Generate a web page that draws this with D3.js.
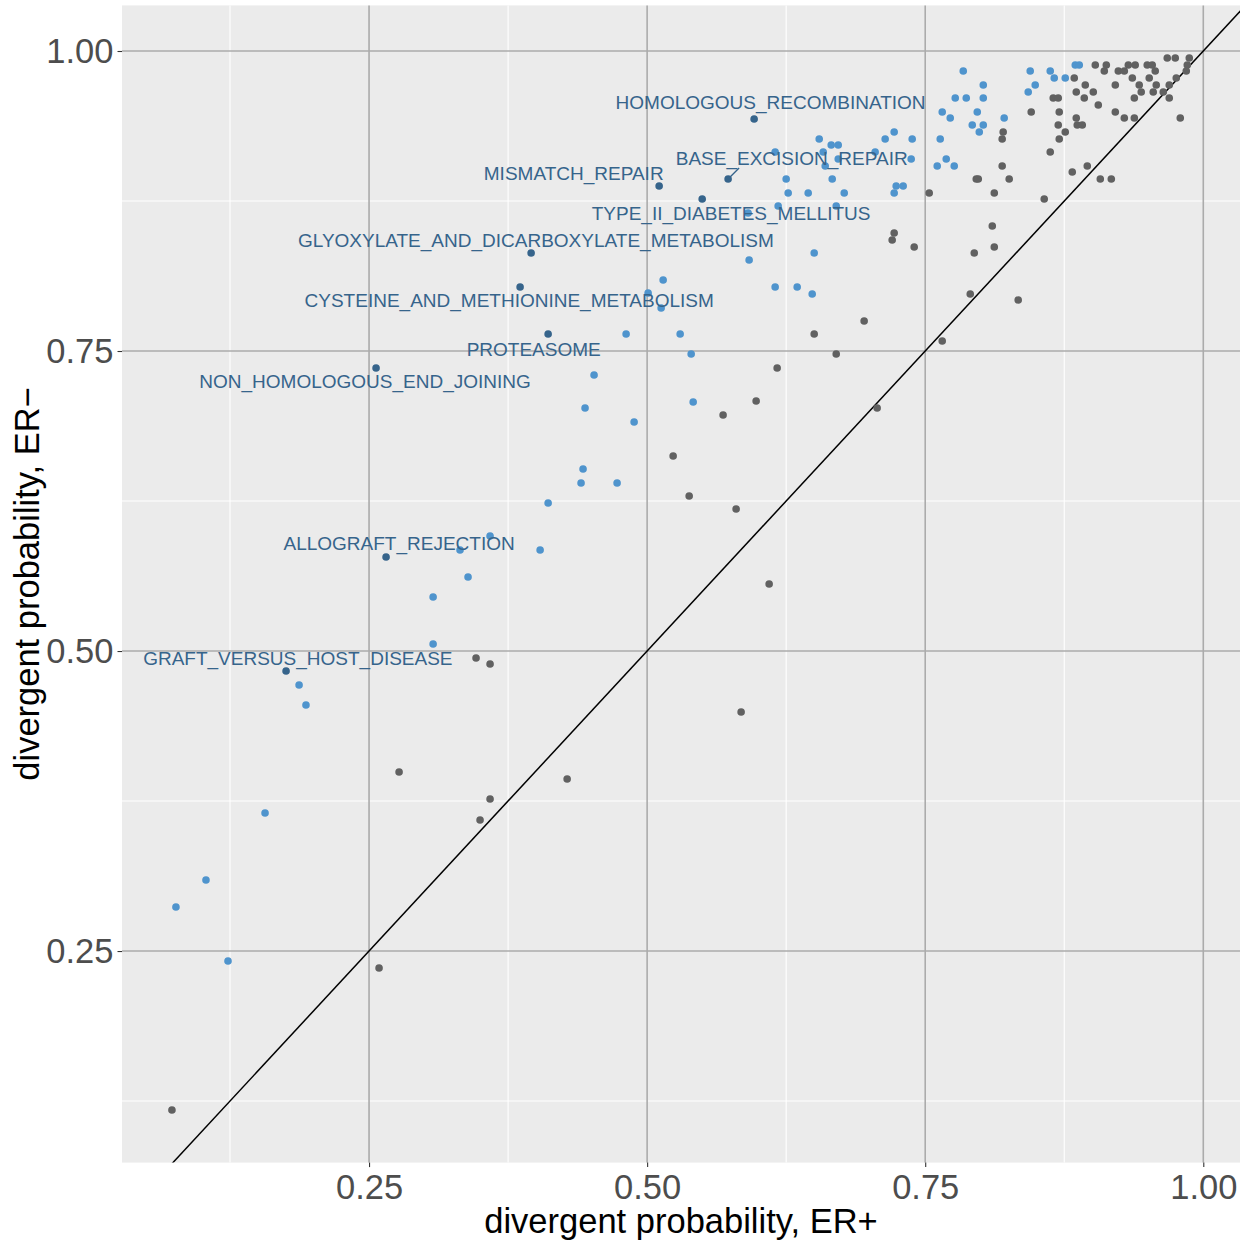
<!DOCTYPE html>
<html>
<head>
<meta charset="utf-8">
<script src="https://cdn.jsdelivr.net/npm/d3@7"></script>
<style>
  body { margin: 0; background: #ffffff; }
  svg { display: block; font-family: "Liberation Sans", Arial, Helvetica, sans-serif; }
</style>
</head>
<body>
<div id="chart"></div>
<script>
// divergent probability per pathway: [ER+, ER-]
// pathways that are not shifted toward ER-
const otherPoints = [
  [0.9676, 0.9942], [0.9748, 0.9942], [0.9874, 0.9942],
  [0.9029, 0.9883], [0.9128, 0.9883], [0.9326, 0.9883], [0.9388, 0.9883], [0.9496, 0.9883], [0.9541, 0.9883], [0.9856, 0.9883],
  [0.9110, 0.9833], [0.9236, 0.9833], [0.9290, 0.9833], [0.9568, 0.9833], [0.9847, 0.9833],
  [0.8840, 0.9775], [0.9362, 0.9775], [0.9514, 0.9775], [0.9757, 0.9775],
  [0.8939, 0.9717], [0.9209, 0.9717], [0.9424, 0.9717], [0.9577, 0.9717], [0.9694, 0.9717],
  [0.8858, 0.9658], [0.9011, 0.9658], [0.9442, 0.9658], [0.9550, 0.9658], [0.9640, 0.9658],
  [0.8651, 0.9608], [0.8696, 0.9608], [0.8930, 0.9608], [0.9380, 0.9608], [0.9694, 0.9608],
  [0.9056, 0.9550],
  [0.8453, 0.9492], [0.8705, 0.9492], [0.9209, 0.9492],
  [0.8858, 0.9442], [0.9290, 0.9442], [0.9380, 0.9442], [0.9793, 0.9442],
  [0.8696, 0.9383], [0.8867, 0.9383], [0.8912, 0.9383],
  [0.8201, 0.9325], [0.8759, 0.9325],
  [0.8192, 0.9267], [0.8705, 0.9267],
  [0.8624, 0.9158],
  [0.8192, 0.9042], [0.8957, 0.9042],
  [0.8822, 0.8992],
  [0.7959, 0.8933], [0.7977, 0.8933], [0.8255, 0.8933], [0.9074, 0.8933], [0.9173, 0.8933],
  [0.7536, 0.8817], [0.8121, 0.8817],
  [0.8570, 0.8767],
  [0.8103, 0.8542], [0.7221, 0.8483], [0.7203, 0.8425], [0.7401, 0.8367], [0.8121, 0.8367], [0.7941, 0.8317],
  [0.7905, 0.7975], [0.8336, 0.7925], [0.6951, 0.7750], [0.6502, 0.7642], [0.7653, 0.7583], [0.6700, 0.7475],
  [0.6169, 0.7358], [0.5980, 0.7083], [0.5683, 0.6967], [0.7068, 0.7025], [0.5234, 0.6625], [0.5378, 0.6292],
  [0.5800, 0.6183], [0.6097, 0.5558], [0.5845, 0.4492], [0.4281, 0.3933], [0.3588, 0.3767], [0.3498, 0.3592],
  [0.2770, 0.3992], [0.3462, 0.4942], [0.3588, 0.4892], [0.2590, 0.2358], [0.0728, 0.1175]
];

// pathways shifted toward ER-
const shiftedPoints = [
  [0.7842, 0.9833], [0.8444, 0.9833], [0.8624, 0.9833], [0.8849, 0.9883], [0.8885, 0.9883],
  [0.8660, 0.9775], [0.8759, 0.9775], [0.8022, 0.9717], [0.8489, 0.9717], [0.8426, 0.9658],
  [0.7770, 0.9608], [0.7869, 0.9608], [0.8022, 0.9608], [0.7653, 0.9492], [0.7968, 0.9492],
  [0.7725, 0.9442], [0.8210, 0.9442], [0.7923, 0.9383], [0.8022, 0.9383], [0.7986, 0.9325],
  [0.7221, 0.9325], [0.7140, 0.9267], [0.7383, 0.9267], [0.7635, 0.9267], [0.7374, 0.9100],
  [0.7689, 0.9100], [0.7608, 0.9042], [0.7761, 0.9042], [0.7239, 0.8875], [0.7302, 0.8875],
  [0.7221, 0.8817],
  [0.6547, 0.9267], [0.6655, 0.9217], [0.6718, 0.9217], [0.6151, 0.9158], [0.6583, 0.9158],
  [0.7050, 0.9158], [0.6718, 0.9100], [0.6601, 0.9042], [0.6250, 0.8933], [0.6664, 0.8933],
  [0.6268, 0.8817], [0.6448, 0.8817], [0.6772, 0.8817], [0.6178, 0.8708], [0.6700, 0.8708],
  [0.5908, 0.8650], [0.6502, 0.8317], [0.5917, 0.8258], [0.5144, 0.8092], [0.6151, 0.8033],
  [0.6349, 0.8033], [0.6484, 0.7975], [0.5009, 0.7983],
  [0.5126, 0.7858], [0.4811, 0.7642], [0.5297, 0.7642], [0.5396, 0.7475], [0.4523, 0.7300],
  [0.4442, 0.7025], [0.5414, 0.7075], [0.4883, 0.6908], [0.4424, 0.6517], [0.4406, 0.6400],
  [0.4730, 0.6400], [0.4110, 0.6233], [0.3588, 0.5958], [0.3318, 0.5842], [0.4038, 0.5842],
  [0.3390, 0.5617], [0.3076, 0.5450], [0.3076, 0.5058], [0.1871, 0.4717], [0.1933, 0.4550],
  [0.1565, 0.3650], [0.1034, 0.3092], [0.0764, 0.2867], [0.1232, 0.2417]
];

// labelled pathways
const labelNames = [
  'HOMOLOGOUS_RECOMBINATION', 'BASE_EXCISION_REPAIR', 'MISMATCH_REPAIR',
  'TYPE_II_DIABETES_MELLITUS', 'GLYOXYLATE_AND_DICARBOXYLATE_METABOLISM',
  'CYSTEINE_AND_METHIONINE_METABOLISM', 'PROTEASOME', 'NON_HOMOLOGOUS_END_JOINING',
  'ALLOGRAFT_REJECTION', 'GRAFT_VERSUS_HOST_DISEASE'
];
const labeledPoints = [
  [0.5962, 0.9433], [0.5728, 0.8933], [0.5108, 0.8875], [0.5495, 0.8767], [0.3957, 0.8317],
  [0.3858, 0.8033], [0.4110, 0.7642], [0.2563, 0.7358], [0.2653, 0.5783], [0.1754, 0.4833]
];
// where the repelled labels ended up (data units)
const labelX = [0.611, 0.630, 0.434, 0.5755, 0.400, 0.376, 0.398, 0.2464, 0.277, 0.186];
const labelY = [0.9575, 0.911, 0.898, 0.865, 0.8425, 0.7925, 0.7517, 0.725, 0.590, 0.494];
// label segment ends (only BASE_EXCISION_REPAIR needed one)
const segmentEnds = [null, [0.5827, 0.9025], null, null, null, null, null, null, null, null];

const xTicks = [0.25, 0.50, 0.75, 1.00];
const yTicks = [0.25, 0.50, 0.75, 1.00];
const xMinor = [0.125, 0.375, 0.625, 0.875];
const yMinor = [0.125, 0.375, 0.625, 0.875];

const W = 1243, H = 1243;
const margin = { top: 5.4, right: 3, bottom: 80.4, left: 122 };
const width = W - margin.left - margin.right;
const height = H - margin.top - margin.bottom;

const x = d3.scaleLinear().domain([0.0279, 1.0330]).range([0, width]);
const y = d3.scaleLinear().domain([0.0737, 1.0380]).range([height, 0]);

const svg = d3.select('#chart').append('svg')
  .attr('width', W).attr('height', H);

const g = svg.append('g').attr('transform', `translate(${margin.left},${margin.top})`);

// panel
g.append('rect').attr('width', width).attr('height', height).attr('fill', '#EBEBEB');

g.append('defs').append('clipPath').attr('id', 'panel-clip')
  .append('rect').attr('width', width).attr('height', height);

// minor grid
g.selectAll('.xminor').data(xMinor).join('line')
  .attr('x1', d => x(d)).attr('x2', d => x(d)).attr('y1', 0).attr('y2', height)
  .attr('stroke', '#ffffff').attr('stroke-width', 1.1);
g.selectAll('.yminor').data(yMinor).join('line')
  .attr('y1', d => y(d)).attr('y2', d => y(d)).attr('x1', 0).attr('x2', width)
  .attr('stroke', '#ffffff').attr('stroke-width', 1.1);

// major grid
g.append('g').selectAll('line').data(xTicks).join('line')
  .attr('x1', d => x(d)).attr('x2', d => x(d)).attr('y1', 0).attr('y2', height)
  .attr('stroke', '#ABABAB').attr('stroke-width', 1.6);
g.append('g').selectAll('line').data(yTicks).join('line')
  .attr('y1', d => y(d)).attr('y2', d => y(d)).attr('x1', 0).attr('x2', width)
  .attr('stroke', '#ABABAB').attr('stroke-width', 1.6);

// axes
const xAxis = g.append('g').attr('transform', `translate(0,${height})`)
  .call(d3.axisBottom(x).tickValues(xTicks).tickFormat(d3.format('.2f')).tickSize(4.5).tickPadding(7));
const yAxis = g.append('g')
  .call(d3.axisLeft(y).tickValues(yTicks).tickFormat(d3.format('.2f')).tickSize(4.5).tickPadding(4));
[xAxis, yAxis].forEach(ax => {
  ax.select('.domain').remove();
  ax.selectAll('.tick line').attr('stroke', '#333333').attr('stroke-width', 1.1);
  ax.selectAll('.tick text').attr('fill', '#4D4D4D').style('font-size', '34.5px')
    .style('font-family', '"Liberation Sans", Arial, sans-serif');
});

// y = x reference
const plot = g.append('g').attr('clip-path', 'url(#panel-clip)');
plot.append('line')
  .attr('x1', x(0)).attr('y1', y(0)).attr('x2', x(1.1)).attr('y2', y(1.1))
  .attr('stroke', '#000000').attr('stroke-width', 1.5);

// points
plot.append('g').selectAll('circle').data(otherPoints).join('circle')
  .attr('cx', d => x(d[0])).attr('cy', d => y(d[1])).attr('r', 3.8)
  .attr('fill', '#616161');
plot.append('g').selectAll('circle').data(shiftedPoints).join('circle')
  .attr('cx', d => x(d[0])).attr('cy', d => y(d[1])).attr('r', 3.8)
  .attr('fill', '#4F94CD');

// label segments
const labels = labelNames.map((name, i) => ({
  name, px: labeledPoints[i][0], py: labeledPoints[i][1],
  lx: labelX[i], ly: labelY[i], seg: segmentEnds[i]
}));
plot.append('g').selectAll('line').data(labels.filter(d => d.seg)).join('line')
  .attr('x1', d => x(d.px)).attr('y1', d => y(d.py))
  .attr('x2', d => x(d.seg[0])).attr('y2', d => y(d.seg[1]))
  .attr('stroke', '#36648B').attr('stroke-width', 1.3);

plot.append('g').selectAll('circle').data(labels).join('circle')
  .attr('cx', d => x(d.px)).attr('cy', d => y(d.py)).attr('r', 3.8)
  .attr('fill', '#36648B');

plot.append('g').selectAll('text').data(labels).join('text')
  .attr('x', d => x(d.lx)).attr('y', d => y(d.ly)).attr('dy', '0.36em')
  .attr('text-anchor', 'middle')
  .attr('fill', '#36648B')
  .style('font-size', '19px')
  .text(d => d.name);

// axis titles
svg.append('text')
  .attr('x', margin.left + width / 2).attr('y', 1233)
  .attr('text-anchor', 'middle').attr('fill', '#000000')
  .style('font-size', '34.5px')
  .text('divergent probability, ER+');
svg.append('text')
  .attr('transform', `translate(39,${margin.top + height / 2}) rotate(-90)`)
  .attr('text-anchor', 'middle').attr('fill', '#000000')
  .style('font-size', '34.5px')
  .text('divergent probability, ER\u2212');
</script>
</body>
</html>
